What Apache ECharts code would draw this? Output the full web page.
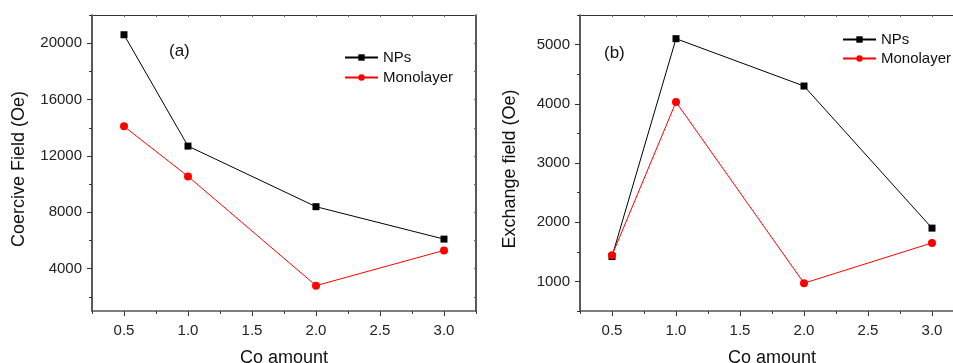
<!DOCTYPE html>
<html>
<head>
<meta charset="utf-8">
<script src="https://cdn.jsdelivr.net/npm/echarts@6/dist/echarts.min.js"></script>
<style>html,body{margin:0;padding:0;background:#fff}#c{width:953px;height:363px}</style>
</head>
<body>
<div id="c"></div>
<script>
// ---- data ----
const coAmount = [0.5, 1.0, 2.0, 3.0];
const coerciveNPs = [20600, 12700, 8400, 6100];
const coerciveMono = [14100, 10550, 2800, 5300];
const exchangeNPs = [1420, 5100, 4300, 1900];
const exchangeMono = [1440, 4030, 970, 1650];
const xMajorTicks = [0.5, 1.0, 1.5, 2.0, 2.5, 3.0];
const xMinorTicks = [0.25, 0.75, 1.25, 1.75, 2.25, 2.75, 3.25];
const xAllTicks = [0.25, 0.5, 0.75, 1.0, 1.25, 1.5, 1.75, 2.0, 2.25, 2.5, 2.75, 3.0, 3.25];
const yLeftMajor = [4000, 8000, 12000, 16000, 20000];
const yLeftMinor = [2000, 6000, 10000, 14000, 18000, 22000];
const yRightMajor = [1000, 2000, 3000, 4000, 5000];
const yRightMinor = [500, 1500, 2500, 3500, 4500, 5500];

const FONT = '"Liberation Sans", Arial, sans-serif';
const pts = (xs, ys) => xs.map((x, i) => [x, ys[i]]);

function xAxesFor(g) {
  return [
    {
      gridIndex: g, type: 'value', position: 'bottom', min: 0.25, max: 3.25,
      name: 'Co amount', nameLocation: 'middle', nameGap: 38,
      nameTextStyle: { fontFamily: FONT, fontSize: 18, color: '#111' },
      axisLine: { show: true, lineStyle: { color: '#555', width: 1.5 } },
      axisTick: { show: true, inside: false, length: 5, customValues: xMajorTicks, lineStyle: { color: '#333' } },
      axisLabel: { show: true, customValues: xMajorTicks, formatter: v => v.toFixed(1), fontFamily: FONT, fontSize: 15, color: '#222', margin: 12 },
      splitLine: { show: false }
    },
    {
      gridIndex: g, type: 'value', position: 'bottom', min: 0.25, max: 3.25,
      axisLine: { show: false },
      axisTick: { show: true, inside: false, length: 3, customValues: xMinorTicks, lineStyle: { color: '#333' } },
      axisLabel: { show: false }, splitLine: { show: false }
    },
    {
      gridIndex: g, type: 'value', position: 'top', min: 0.25, max: 3.25,
      axisLine: { show: true, lineStyle: { color: '#333', width: 1.2 } },
      axisTick: { show: true, inside: true, length: 2, customValues: xAllTicks, lineStyle: { color: '#666' } },
      axisLabel: { show: false }, splitLine: { show: false }
    }
  ];
}

function yAxesFor(g, min, max, major, minor, name, gap) {
  return [
    {
      gridIndex: g, type: 'value', position: 'left', min: min, max: max,
      name: name, nameLocation: 'middle', nameRotate: 90, nameGap: gap,
      nameTextStyle: { fontFamily: FONT, fontSize: 18, color: '#111', padding: [0, 12, 0, 0] },
      axisLine: { show: true, lineStyle: { color: '#222', width: 1.5 } },
      axisTick: { show: true, inside: false, length: 5, customValues: major, lineStyle: { color: '#333' } },
      axisLabel: { show: true, customValues: major, formatter: v => String(v), fontFamily: FONT, fontSize: 15, color: '#222', margin: 10 },
      splitLine: { show: false }
    },
    {
      gridIndex: g, type: 'value', position: 'left', min: min, max: max,
      axisLine: { show: false },
      axisTick: { show: true, inside: false, length: 3, customValues: minor, lineStyle: { color: '#333' } },
      axisLabel: { show: false }, splitLine: { show: false }
    },
    {
      gridIndex: g, type: 'value', position: 'right', min: min, max: max,
      axisLine: { show: true, lineStyle: { color: '#222', width: 1.5 } },
      axisTick: { show: true, inside: true, length: 2, customValues: major.concat(minor), lineStyle: { color: '#666' } },
      axisLabel: { show: false }, splitLine: { show: false }
    }
  ];
}

function series(name, xi, yi, data, color, symbol, size) {
  return {
    name: name, type: 'line', xAxisIndex: xi, yAxisIndex: yi, data: data,
    symbol: symbol, symbolSize: size, showSymbol: true,
    lineStyle: { color: color, width: 1 },
    itemStyle: { color: color },
    animation: false
  };
}

const chart = echarts.init(document.getElementById('c'), null, { renderer: 'canvas' });
chart.setOption({
  backgroundColor: '#fff',
  animation: false,
  textStyle: { fontFamily: FONT },
  grid: [
    { left: 92, top: 15, width: 384, height: 296, outerBoundsMode: 'none', containLabel: false },
    { left: 580, top: 15, width: 384, height: 296, outerBoundsMode: 'none', containLabel: false }
  ],
  title: [
    { text: '(a)', left: 164, top: 38, textStyle: { fontFamily: FONT, fontSize: 17, fontWeight: 'normal', color: '#111' } },
    { text: '(b)', left: 599, top: 40, textStyle: { fontFamily: FONT, fontSize: 17, fontWeight: 'normal', color: '#111' } }
  ],
  legend: [
    {
      seriesIndex: [0, 1], data: ['NPs', 'Monolayer'], orient: 'vertical', left: 339, top: 45,
      itemWidth: 33, itemHeight: 8, itemGap: 5,
      textStyle: { fontFamily: FONT, fontSize: 15, color: '#111' }
    },
    {
      data: ['NPs', 'Monolayer'], orient: 'vertical', left: 837, top: 27,
      itemWidth: 33, itemHeight: 8, itemGap: 4,
      textStyle: { fontFamily: FONT, fontSize: 15, color: '#111' }
    }
  ],
  xAxis: xAxesFor(0).concat(xAxesFor(1)),
  yAxis: yAxesFor(0, 1000, 22000, yLeftMajor, yLeftMinor, 'Coercive Field (Oe)', 64)
    .concat(yAxesFor(1, 500, 5500, yRightMajor, yRightMinor, 'Exchange field (Oe)', 61)),
  series: [
    series('NPs', 0, 0, pts(coAmount, coerciveNPs), '#000', 'rect', 7),
    series('Monolayer', 0, 0, pts(coAmount, coerciveMono), '#ff0000', 'circle', 8),
    series('NPs', 3, 3, pts(coAmount, exchangeNPs), '#000', 'rect', 7),
    series('Monolayer', 3, 3, pts(coAmount, exchangeMono), '#ff0000', 'circle', 8)
  ]
});
</script>
</body>
</html>
